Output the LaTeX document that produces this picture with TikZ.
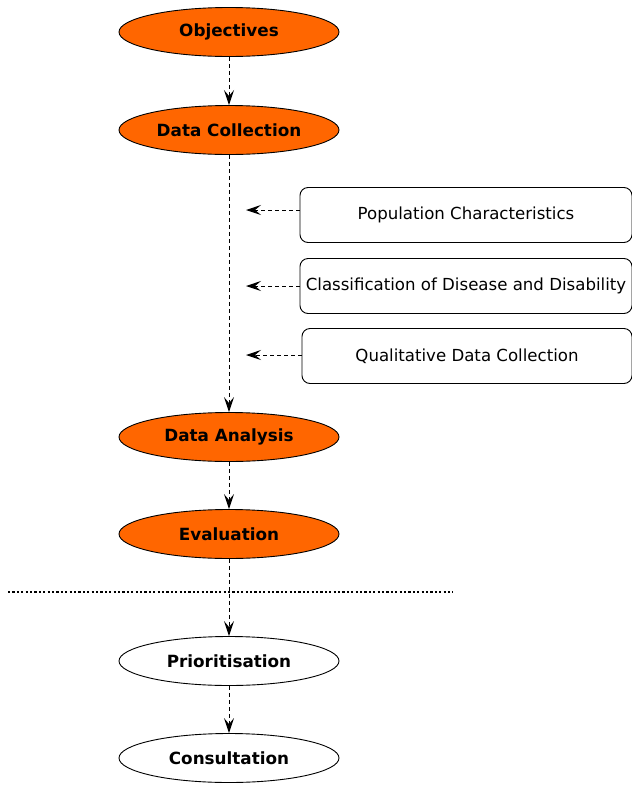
\documentclass[tikz,border=0pt]{standalone}
\usepackage{fontspec}
\setmainfont{DejaVu Sans}
\usetikzlibrary{shapes.geometric,arrows.meta}
\begin{document}
\begin{tikzpicture}[x=1pt,y=-1pt,
  phase/.style={ellipse,draw=black,line width=0.9pt,minimum width=220pt,minimum height=49pt,inner sep=0pt,font=\fontsize{16.8}{19}\selectfont\bfseries},
  hot/.style={phase,fill={rgb,255:red,255;green,102;blue,0}},
  cold/.style={phase,fill=white},
  inbox/.style={draw=black,line width=0.9pt,rounded corners=8pt,minimum height=55pt,inner sep=2pt,font=\fontsize{16.6}{19}\selectfont},
  flow/.style={line width=1pt,dash pattern=on 4pt off 3pt,-{Stealth[length=15pt,width=10pt,inset=6pt]}}
]
\useasboundingbox (0,0) rectangle (632,785);
\node[hot] (obj) at (229,32) {Objectives};
\node[hot] (dc) at (229,130) {Data Collection};
\node[hot] (da) at (229,437) {Data Analysis};
\node[hot] (ev) at (229,534) {Evaluation};
\node[cold] (pr) at (229,661) {Prioritisation};
\node[cold] (co) at (229,758) {Consultation};
\node[inbox,minimum width=332pt] (pc) at (466,215) {Population Characteristics};
\node[inbox,minimum width=332pt] (cd) at (466,286) {Classification of Disease and Disability};
\node[inbox,minimum width=330pt] (qd) at (467,356) {Qualitative Data Collection};
\coordinate (a1) at (246,210);
\coordinate (a2) at (246,286);
\coordinate (a3) at (246,355);
\draw[flow] (obj) -- (dc);
\draw[flow] (dc) -- (da);
\draw[flow] (da) -- (ev);
\draw[flow] (ev) -- (pr);
\draw[flow] (pr) -- (co);
\draw[flow] (pc.west |- a1) -- (a1);
\draw[flow] (cd.west |- a2) -- (a2);
\draw[flow] (qd.west |- a3) -- (a3);
\coordinate (l1) at (8,592);
\coordinate (l2) at (453,592);
\draw[line width=1.6pt,dash pattern=on 2.2pt off 2.2pt] (l1) -- (l2);
\end{tikzpicture}
\end{document}
